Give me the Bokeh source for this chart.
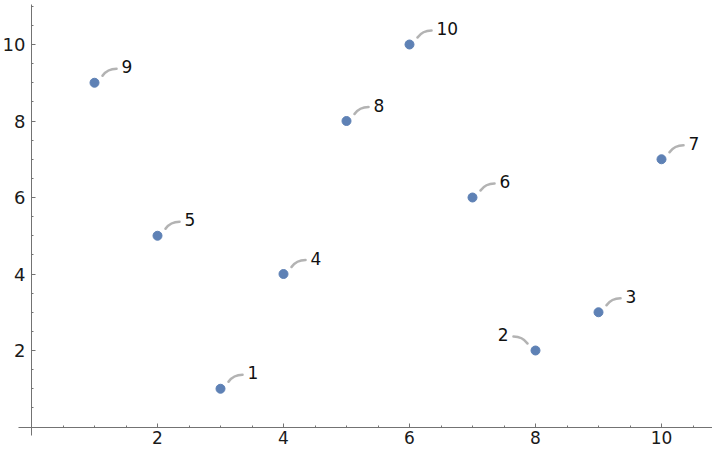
from bokeh.plotting import figure
from bokeh.models import Range1d, FixedTicker, ColumnDataSource
from bokeh.core.properties import value
from bokeh.embed import file_html
from bokeh.resources import INLINE

# ---- data ----
x_vals = [1, 2, 3, 4, 5, 6, 7, 8, 9, 10]
y_vals = [9, 5, 1, 4, 8, 10, 6, 2, 3, 7]
labels = ["9", "5", "1", "4", "8", "10", "6", "2", "3", "7"]
callout_side = ["right", "right", "right", "right", "right", "right", "right", "left", "right", "right"]
major_ticks = [2, 4, 6, 8, 10]
x_minor_ticks = [0.5, 1, 1.5, 2.5, 3, 3.5, 4.5, 5, 5.5, 6.5, 7, 7.5, 8.5, 9, 9.5, 10.5]
y_minor_ticks = [0.5, 1, 1.5, 2.5, 3, 3.5, 4.5, 5, 5.5, 6.5, 7, 7.5, 8.5, 9, 9.5, 10.5, 11]

# ---- layout ----
W, H = 712, 450
PX_PER_X = 63.0
PX_PER_Y = 38.25
X0 = -31 / PX_PER_X
X1 = X0 + W / PX_PER_X
Y1 = 426.5 / PX_PER_Y
Y0 = Y1 - H / PX_PER_Y
sx = W / (X1 - X0)
sy = H / (Y1 - Y0)

p = figure(width=W, height=H, output_backend="svg", toolbar_location=None,
           x_range=Range1d(X0, X1), y_range=Range1d(Y0, Y1),
           min_border=0, min_border_left=0, min_border_right=0,
           min_border_top=0, min_border_bottom=0)
p.outline_line_color = None
p.grid.visible = False
p.background_fill_color = "white"
p.border_fill_color = "white"

axis_color = "#737373"
for ax, minor, bounds in ((p.xaxis[0], x_minor_ticks, (-0.206, 10.89)),
                          (p.yaxis[0], y_minor_ticks, (-0.222, 11.05))):
    ax.fixed_location = 0
    ax.bounds = bounds
    ax.ticker = FixedTicker(ticks=major_ticks, minor_ticks=minor)
    ax.axis_line_color = axis_color
    ax.major_tick_line_color = axis_color
    ax.minor_tick_line_color = axis_color
    ax.major_tick_in = 4
    ax.major_tick_out = 0
    ax.minor_tick_in = 2
    ax.minor_tick_out = 0
    ax.major_label_text_font = "DejaVu Sans"
    ax.major_label_text_color = "#1a1a1a"
p.xaxis[0].major_label_text_font_size = "17px"
p.yaxis[0].major_label_text_font_size = "18px"
p.xaxis[0].major_label_standoff = 4
p.yaxis[0].major_label_standoff = 6

# callout geometry (pixel offsets)
P0 = (8, 7)
C = (13, 14)
P1 = (22, 14)
LBL = (27, 16)

x0s, y0s, cxs, cys, x1s, y1s = [], [], [], [], [], []
tx, ty, talign = [], [], []
for xv, yv, side in zip(x_vals, y_vals, callout_side):
    s = 1 if side == "right" else -1
    x0s.append(xv + s * P0[0] / sx); y0s.append(yv + P0[1] / sy)
    cxs.append(xv + s * C[0] / sx); cys.append(yv + C[1] / sy)
    x1s.append(xv + s * P1[0] / sx); y1s.append(yv + P1[1] / sy)
    tx.append(xv + s * LBL[0] / sx); ty.append(yv + LBL[1] / sy)
    talign.append("left" if side == "right" else "right")

p.quadratic(x0=x0s, y0=y0s, x1=x1s, y1=y1s, cx=cxs, cy=cys,
            line_color="#b3b3b3", line_width=2.6, line_cap="round")

src = ColumnDataSource(dict(x=tx, y=ty, text=labels, align=talign))
p.text(x="x", y="y", text="text", source=src, text_align="align",
       text_baseline="middle", text_font=value("DejaVu Sans"),
       text_font_size="17px", text_color="#111111")

p.scatter(x=x_vals, y=y_vals, size=9, fill_color="#5E81B5", line_color="#5E81B5")

open("out.html", "w").write(file_html(p, INLINE))
